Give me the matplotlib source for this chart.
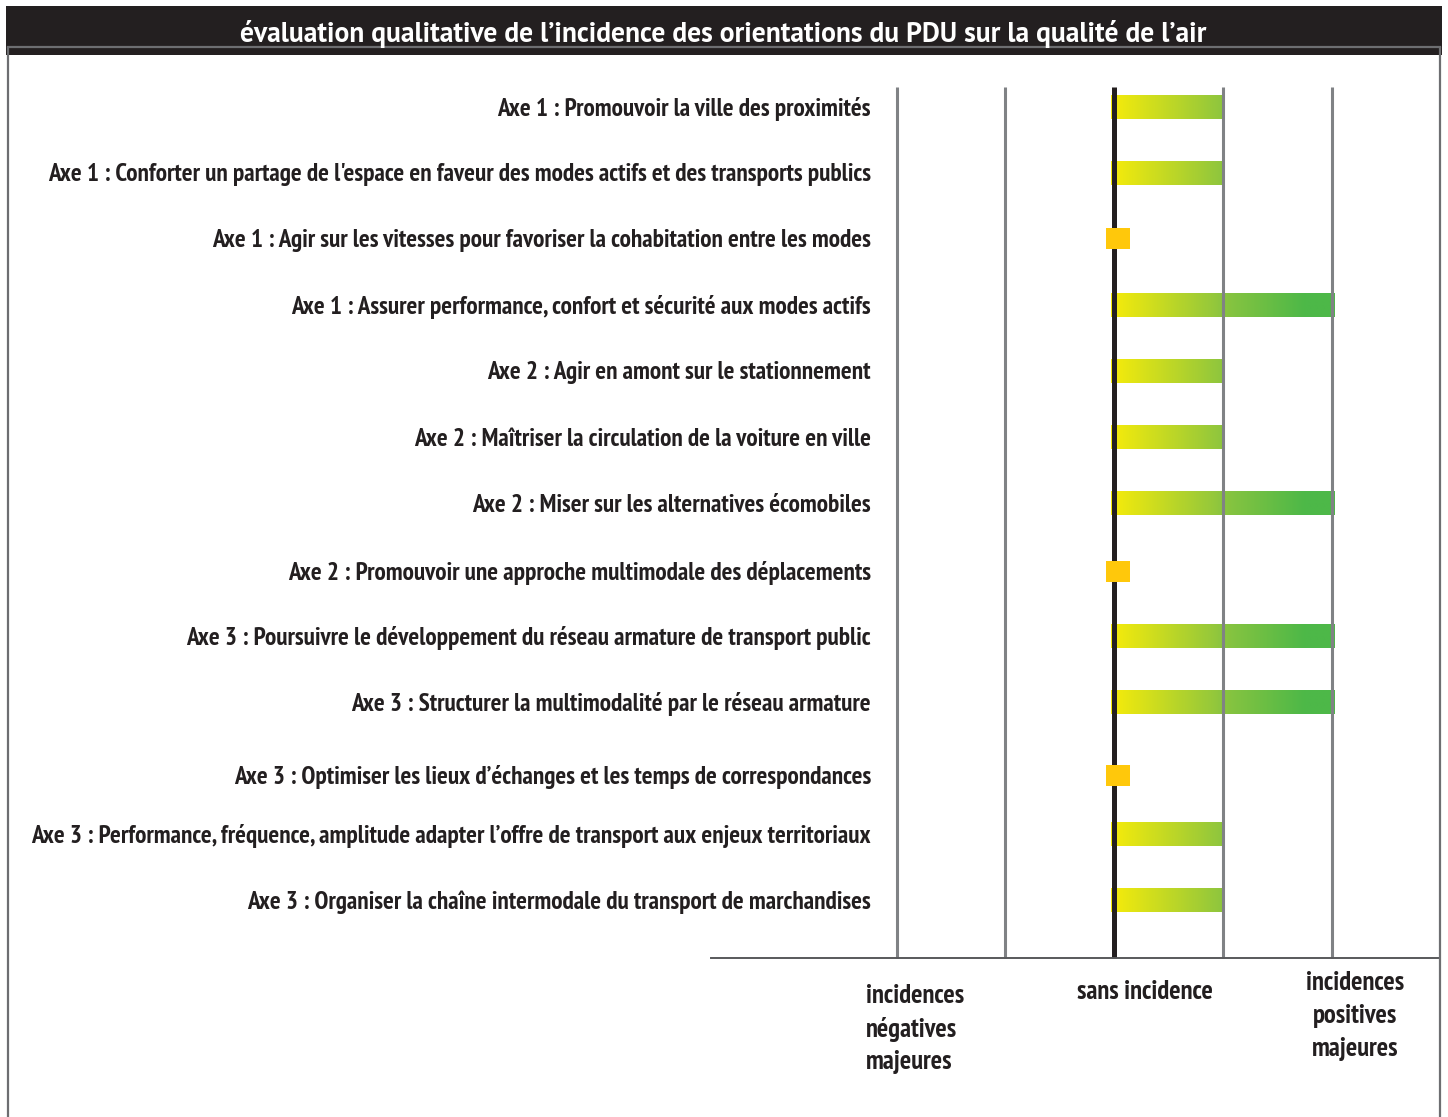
import numpy as np
import matplotlib
matplotlib.use('Agg')
import matplotlib.pyplot as plt
from matplotlib.colors import LinearSegmentedColormap
from matplotlib.patches import Rectangle
from matplotlib import font_manager

title = "évaluation qualitative de l’incidence des orientations du PDU sur la qualité de l’air"
categories = [
    "Axe 1 : Promouvoir la ville des proximités",
    "Axe 1 : Conforter un partage de l'espace en faveur des modes actifs et des transports publics",
    "Axe 1 : Agir sur les vitesses pour favoriser la cohabitation entre les modes",
    "Axe 1 : Assurer performance, confort et sécurité aux modes actifs",
    "Axe 2 : Agir en amont sur le stationnement",
    "Axe 2 : Maîtriser la circulation de la voiture en ville",
    "Axe 2 : Miser sur les alternatives écomobiles",
    "Axe 2 : Promouvoir une approche multimodale des déplacements",
    "Axe 3 : Poursuivre le développement du réseau armature de transport public",
    "Axe 3 : Structurer la multimodalité par le réseau armature",
    "Axe 3 : Optimiser les lieux d’échanges et les temps de correspondances",
    "Axe 3 : Performance, fréquence, amplitude adapter l’offre de transport aux enjeux territoriaux",
    "Axe 3 : Organiser la chaîne intermodale du transport de marchandises",
]
values = [1, 1, 0, 2, 1, 1, 2, 0, 2, 2, 0, 1, 1]
scale_ticks = [-2, -1, 0, 1, 2]
scale_labels = ["incidences\nnégatives\nmajeures", "sans incidence", "incidences\npositives\nmajeures"]

# ---- layout (pixel based) ----
W, H = 1448, 1117
X0, U = 1114.0, 108.75
def px(x):
    return (x - X0) / U
row_y = [107, 173, 238, 305, 371, 437, 503, 571, 636, 702, 775, 834, 900]

bold_fams = {}
for f in font_manager.fontManager.ttflist:
    w = f.weight if isinstance(f.weight, int) else 400
    if w >= 600:
        bold_fams.setdefault(f.name, []).append(w)

def pick(cands, default):
    for c in cands:
        if c in bold_fams:
            return c
    return default

cond = pick(['PT Sans Narrow', 'Roboto Condensed', 'Fira Sans Condensed', 'Open Sans Condensed',
             'Barlow Semi Condensed', 'Archivo Narrow', 'Sofia Sans Condensed', 'Saira SemiCondensed',
             'Fira Sans Extra Condensed', 'Barlow Condensed'], 'DejaVu Sans')
label_family = [cond, 'DejaVu Sans']
title_family = [pick(['Source Sans 3', 'Source Sans Pro', 'PT Sans', 'Fira Sans', 'Open Sans'], 'DejaVu Sans'), 'DejaVu Sans']
TXT = '#231f20'

fig = plt.figure(figsize=(W / 100, H / 100), dpi=100)
ax = fig.add_axes([0, 0, 1, 1])
ax.axis('off')
ax.set_xlim(px(0), px(W))
ax.set_ylim(H, 0)
renderer = fig.canvas.get_renderer()

def fit(t, target):
    bb = t.get_window_extent(renderer)
    t.set_fontsize(t.get_fontsize() * target / bb.width)

# title bar
ax.add_patch(Rectangle((px(6), 6), px(1442) - px(6), 49, facecolor='#231f20', edgecolor='none', zorder=1))
tt = ax.text(px(723), 33.5, title, color='white', fontsize=16.5, fontweight='bold',
             family=title_family, ha='center', va='center', zorder=6)
fit(tt, 966)
# frame
fc = '#6d6e71'
ax.plot([px(8), px(8)], [47, H + 5], color=fc, lw=1.6, zorder=5, solid_capstyle='butt')
ax.plot([px(1440), px(1440)], [47, H + 5], color=fc, lw=1.6, zorder=5, solid_capstyle='butt')
ax.plot([px(8), px(1440)], [47, 47], color=fc, lw=1.6, zorder=5)

# grid lines
for t in scale_ticks:
    if t == 0:
        ax.plot([t, t], [87, 958], color='#231f20', lw=3.6, zorder=3, solid_capstyle='butt')
    else:
        ax.plot([t, t], [87, 958], color='#808285', lw=2.2, zorder=3, solid_capstyle='butt')
ax.plot([px(711), px(1440)], [958, 958], color='#58595b', lw=1.4, zorder=3)

cmap = LinearSegmentedColormap.from_list('g', [(0, '#f7ec0a'), (0.5, '#8cc53f'), (0.88, '#4db848'), (1, '#4db848')])
for y, v in zip(row_y, values):
    if v > 0:
        xe = v + (0.025 if v == 2 else 0)
        grad = np.linspace(0, xe, 256)[None, :]
        ax.imshow(grad, cmap=cmap, vmin=0, vmax=2, extent=(-0.03, xe, y + 12, y - 12),
                  aspect='auto', interpolation='bilinear', zorder=2)
    else:
        ax.add_patch(Rectangle((-0.07, y - 10.5), 0.22, 21, facecolor='#ffc80b', edgecolor='none', zorder=4))

texts = []
for y, c in zip(row_y, categories):
    texts.append(ax.text(px(871), y + 2, c, ha='right', va='center', fontsize=17, fontweight='bold',
                         color=TXT, family=label_family))
# size so the longest label spans the same width as in the reference
longest = max(texts, key=lambda t: t.get_window_extent(renderer).width)
fit(longest, 840)
fs = longest.get_fontsize()
for t in texts:
    t.set_fontsize(fs)

bfs = fs * 1.06
ax.text(px(866), 1029, scale_labels[0], ha='left', va='center', fontsize=bfs, fontweight='bold',
        color=TXT, family=label_family, linespacing=1.45)
ax.text(px(1145), 992, scale_labels[1], ha='center', va='center', fontsize=bfs, fontweight='bold',
        color=TXT, family=label_family)
ax.text(px(1355), 1016, scale_labels[2], ha='center', va='center', fontsize=bfs, fontweight='bold',
        color=TXT, family=label_family, linespacing=1.45, multialignment='center')

ax.set_xlim(px(0), px(W))
ax.set_ylim(H, 0)
fig.savefig('out.png', dpi=100, facecolor='white')
